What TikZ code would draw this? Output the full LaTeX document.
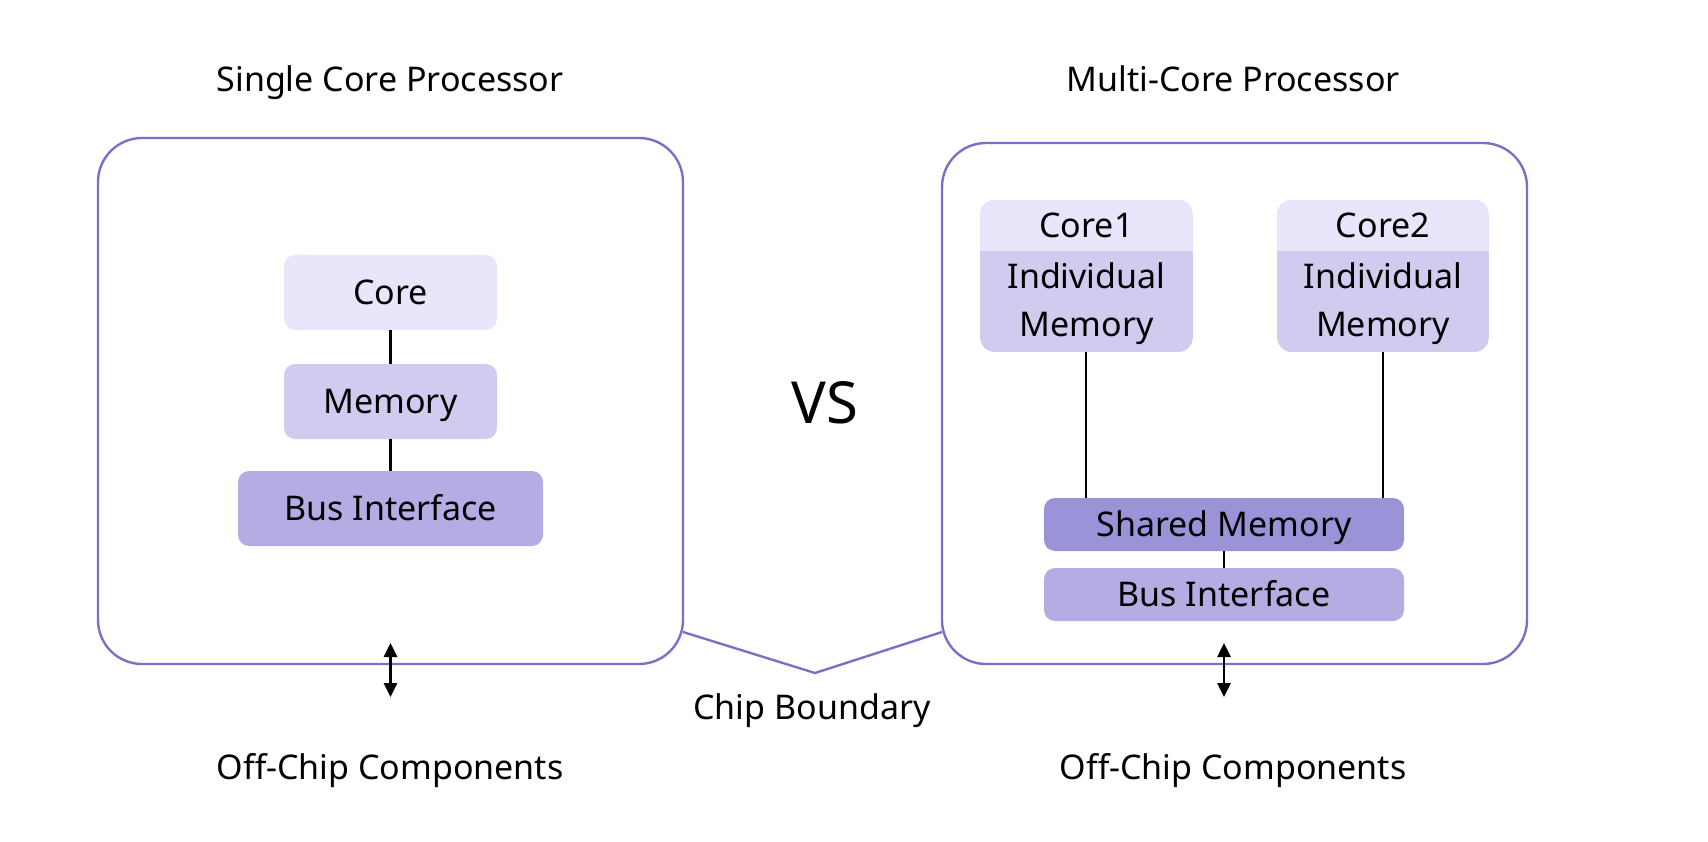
\documentclass[tikz,border=0pt]{standalone}
\usepackage{fontspec}
\setmainfont{Noto Sans}
\usetikzlibrary{arrows.meta}
\definecolor{chipline}{HTML}{7B70C6}
\definecolor{corefill}{HTML}{E8E6FA}
\definecolor{memfill}{HTML}{D0CBEF}
\definecolor{busfill}{HTML}{B3ADE4}
\definecolor{shfill}{HTML}{9A93D8}
\begin{document}
\begin{tikzpicture}[x=1pt,y=-1pt,
  chip/.style={draw=chipline,line width=2.4pt,rounded corners=44pt},
  blk/.style={rounded corners=11pt,inner sep=0pt,text height=24pt,text depth=0pt,font=\fontsize{34}{40}\selectfont},
  lbl/.style={font=\fontsize{34}{40}\selectfont,inner sep=0pt,text height=24pt,text depth=0pt},
  wire/.style={line width=2.6pt,black},
  dbl/.style={line width=2.6pt,{Triangle[length=14pt,width=13pt]}-{Triangle[length=14pt,width=13pt]}}]
\useasboundingbox (0,0) rectangle (1708,842);
% chip outlines
\draw[chip] (98,138) rectangle (683,664);
\draw[chip] (942,143) rectangle (1527,664);
\coordinate (bl) at (683,632);
\coordinate (bm) at (815,673);
\coordinate (br) at (942,632);
\draw[draw=chipline,line width=2.4pt] (bl) -- (bm) -- (br);
% titles
\node[lbl] (t1) at (390,80) {Single Core Processor};
\node[lbl] (t2) at (1233,80) {Multi-Core Processor};
\node[lbl,font=\fontsize{58}{66}\selectfont,text height=41pt] (vs) at (825,403) {VS};
\node[lbl] (cb) at (812,707) {Chip Boundary};
\node[lbl] (oc1) at (390,767) {Off-Chip Components};
\node[lbl] (oc2) at (1233,767) {Off-Chip Components};
% single core
\node[blk,fill=corefill,minimum width=213pt,minimum height=75pt] (core) at (390.5,292.5) {Core};
\node[blk,fill=memfill,minimum width=213pt,minimum height=75pt] (mem) at (390.5,401.5) {Memory};
\node[blk,fill=busfill,minimum width=305pt,minimum height=75pt] (bus) at (390.5,508.5) {Bus Interface};
\draw[wire] (core) -- (mem);
\draw[wire] (mem) -- (bus);
\coordinate (a1t) at (390.5,643);
\coordinate (a1b) at (390.5,697);
\draw[dbl] (a1t) -- (a1b);
% multi core
\begin{scope}
\clip[rounded corners=15pt] (980,200) rectangle (1193,352);
\fill[memfill] (980,200) rectangle (1193,352);
\fill[corefill] (980,200) rectangle (1193,251);
\end{scope}
\begin{scope}
\clip[rounded corners=15pt] (1277,200) rectangle (1489,352);
\fill[memfill] (1277,200) rectangle (1489,352);
\fill[corefill] (1277,200) rectangle (1489,251);
\end{scope}
\node[lbl] (c1) at (1086.5,226) {Core1};
\node[lbl] (im1a) at (1086.5,277) {Individual};
\node[lbl] (im1b) at (1086.5,324) {Memory};
\node[lbl] (c2) at (1383,226) {Core2};
\node[lbl] (im2a) at (1383,277) {Individual};
\node[lbl] (im2b) at (1383,324) {Memory};
\coordinate (k1) at (1086,352);
\coordinate (k2) at (1383,352);
\node[blk,fill=shfill,minimum width=360pt,minimum height=53pt] (sh) at (1224,524.5) {Shared Memory};
\node[blk,fill=busfill,minimum width=360pt,minimum height=53pt] (bus2) at (1224,594.5) {Bus Interface};
\draw[wire] (k1) -- (k1 |- sh.north);
\draw[wire] (k2) -- (k2 |- sh.north);
\draw[wire] (sh) -- (bus2);
\coordinate (a2t) at (1224,643);
\coordinate (a2b) at (1224,697);
\draw[dbl] (a2t) -- (a2b);
\end{tikzpicture}
\end{document}
